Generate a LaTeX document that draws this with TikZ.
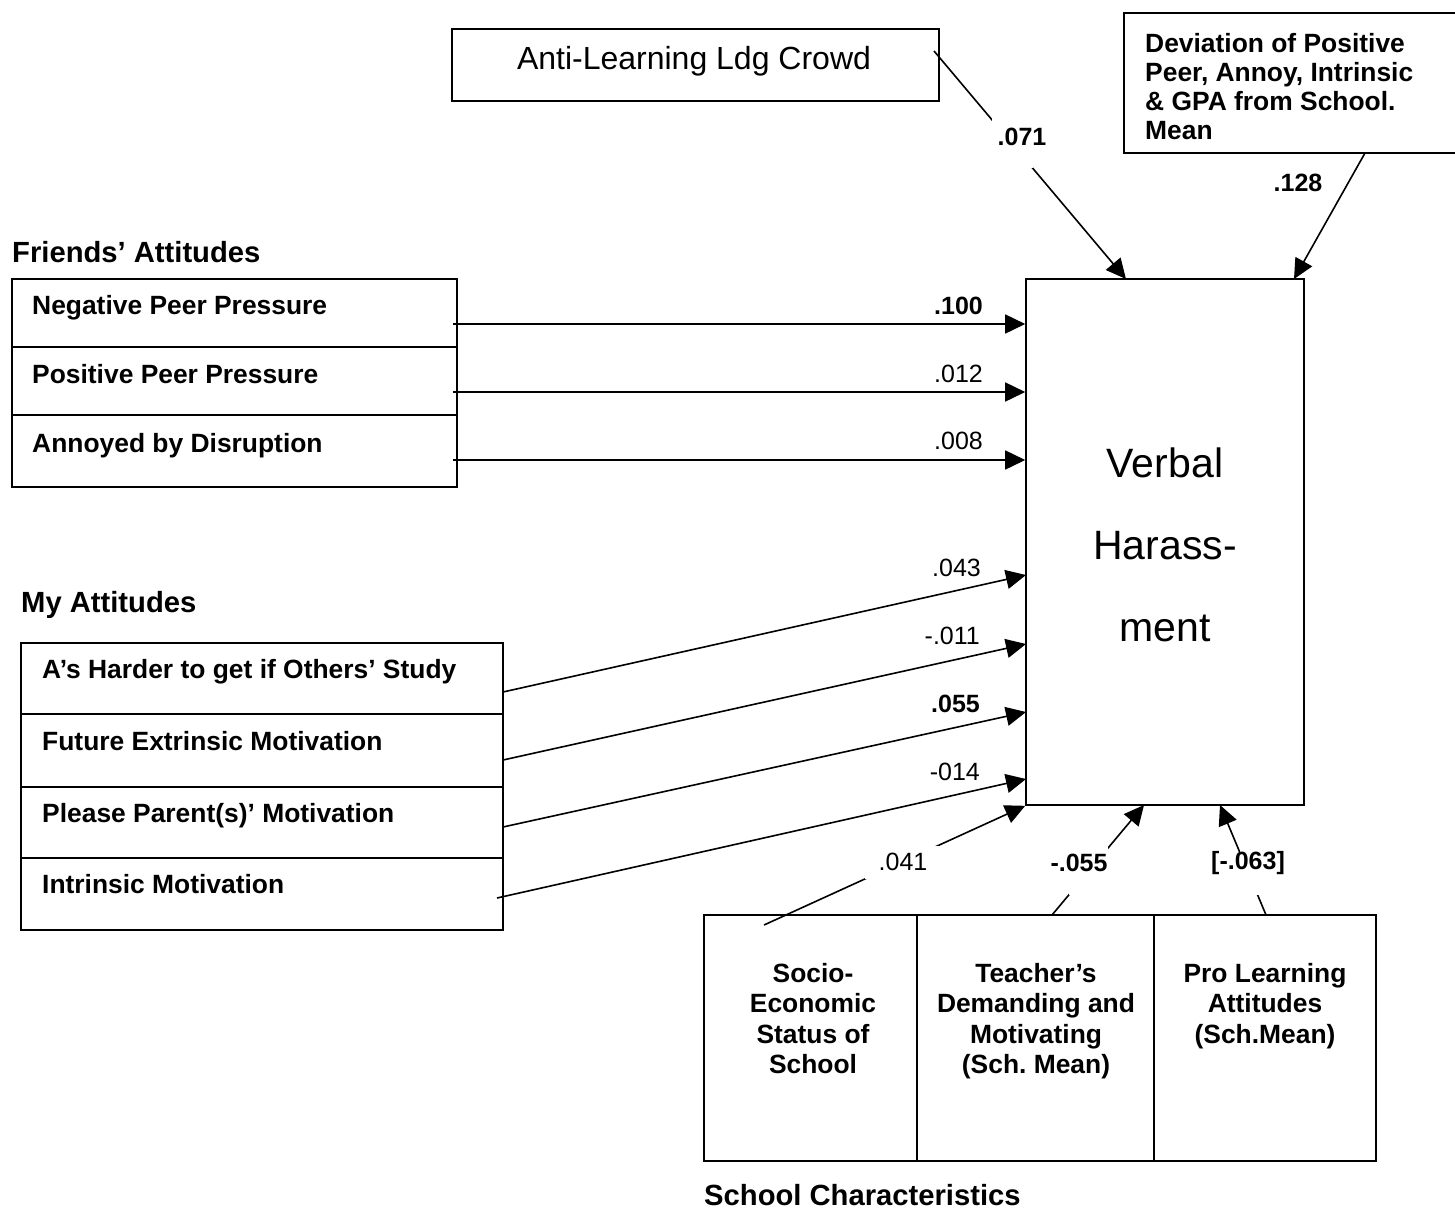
\documentclass[tikz,border=0pt]{standalone}
\usepackage{fontspec}
\setmainfont{Liberation Sans}
\usetikzlibrary{arrows.meta}
\frenchspacing
\newcommand\fItem{\fontsize{26.4}{30.5}\selectfont\bfseries}
\newcommand\fHead{\fontsize{29.2}{34}\selectfont\bfseries}
\newcommand\fNum{\fontsize{25}{30}\selectfont}
\newcommand\fNumB{\fontsize{25}{30}\selectfont\bfseries}
\newcommand\fAnti{\fontsize{32}{38}\selectfont}
\newcommand\fVerbal{\fontsize{41}{82}\selectfont}
\newcommand\fDev{\fontsize{26.4}{29}\selectfont\bfseries}
\begin{document}
\begin{tikzpicture}[x=1pt,y=-1pt,
  box/.style={draw, line width=1.6pt, inner sep=0pt},
  arr/.style={line width=1.6pt, -{Triangle[length=20pt,width=19pt]}},
  item/.style={anchor=base west, inner sep=0pt, font=\fItem},
  head/.style={anchor=base west, inner sep=0pt, font=\fHead},
  num/.style={anchor=base east, inner sep=0pt, font=\fNum},
  numb/.style={anchor=base east, inner sep=0pt, font=\fNumB},
  cnum/.style={inner sep=0pt, font=\fNum},
  cnumb/.style={inner sep=0pt, font=\fNumB},
  gap/.style={fill=white, draw=none, inner sep=0pt},
  multi/.style={anchor=base, inner sep=0pt, align=center, font=\fItem}]
\fill[white] (0,0) rectangle (1455,1213);
\useasboundingbox (0,0) rectangle (1455,1213);

% ---- boxes
\node[box, minimum width=487pt, minimum height=72pt] (ant) at (695.5,65) {};
\node[inner sep=0pt, anchor=base, font=\fAnti] (antt) at (694,69) {Anti-Learning Ldg Crowd};
\node[box, minimum width=346pt, minimum height=140pt] (dev) at (1297,83) {};
\node[anchor=base west, inner sep=0pt, align=left, font=\fDev] (devt) at (1145,139)
  {Deviation of Positive\\Peer, Annoy, Intrinsic\\\& GPA from School.\\Mean};

\node[head] (fh) at (12,262) {Friends’ Attitudes};
\node[box, minimum width=445pt, minimum height=68pt] (fr1) at (234.5,313) {};
\node[box, minimum width=445pt, minimum height=68pt] (fr2) at (234.5,381) {};
\node[box, minimum width=445pt, minimum height=72pt] (fr3) at (234.5,451) {};
\node[item] (fr1t) at (32,314) {Negative Peer Pressure};
\node[item] (fr2t) at (32,383) {Positive Peer Pressure};
\node[item] (fr3t) at (32,452) {Annoyed by Disruption};

\node[head] (mh) at (21,612) {My Attitudes};
\node[box, minimum width=482pt, minimum height=71pt] (my1) at (262,678.5) {};
\node[box, minimum width=482pt, minimum height=73pt] (my2) at (262,750.5) {};
\node[box, minimum width=482pt, minimum height=71pt] (my3) at (262,822.5) {};
\node[box, minimum width=482pt, minimum height=72pt] (my4) at (262,894) {};
\node[item] (my1t) at (42,678) {A’s Harder to get if Others’ Study};
\node[item] (my2t) at (42,750) {Future Extrinsic Motivation};
\node[item] (my3t) at (42,822) {Please Parent(s)’ Motivation};
\node[item] (my4t) at (42,893) {Intrinsic Motivation};

\node[box, minimum width=278pt, minimum height=526pt] (vh) at (1165,542) {};
\node[anchor=base, inner sep=0pt, align=center, font=\fVerbal] (vht) at (1165,641) {Verbal\\Harass-\\ment};

\node[box, minimum width=213pt, minimum height=246pt] (soc) at (810.5,1038) {};
\node[box, minimum width=237pt, minimum height=246pt] (tea) at (1035.5,1038) {};
\node[box, minimum width=222pt, minimum height=246pt] (pro) at (1265,1038) {};
\node[multi] (soct) at (813,1073.5) {Socio-\\Economic\\Status of\\School};
\node[multi] (teat) at (1036,1073.5) {Teacher’s\\Demanding and\\Motivating\\(Sch. Mean)};
\node[multi] (prot) at (1265,1043) {Pro Learning\\Attitudes\\(Sch.Mean)};
\node[head] (sh) at (704,1205) {School Characteristics};

% ---- connector end points
\coordinate (a1) at (453,324);
\coordinate (a2) at (453,392);
\coordinate (a3) at (453,460);
\coordinate (b1) at (503,692);
\coordinate (b2) at (503,760);
\coordinate (b3) at (503,827);
\coordinate (b4) at (497,898);
\coordinate (t1) at (1026,575);
\coordinate (t2) at (1026,644);
\coordinate (t3) at (1026,712);
\coordinate (t4) at (1026,779);
\coordinate (c1) at (934,51);
\coordinate (t5) at (1126,279);
\coordinate (c2) at (1365,153);
\coordinate (t6) at (1294,279);
\coordinate (d1) at (764,925);
\coordinate (d2) at (1052,915);
\coordinate (t7) at (1144,805);
\coordinate (d3) at (1266,915);
\coordinate (t8) at (1220,805);

% ---- connectors
\draw[arr] (a1) -- (vh.west |- a1);
\draw[arr] (a2) -- (vh.west |- a2);
\draw[arr] (a3) -- (vh.west |- a3);
\draw[arr] (b1) -- (t1);
\draw[arr] (b2) -- (t2);
\draw[arr] (b3) -- (t3);
\draw[arr] (b4) -- (t4);
\draw[arr] (c1) -- (t5);
\draw[arr] (c2) -- (t6);
\draw[arr] (d1) -- (vh.south west);
\draw[arr] (d2) -- (t7);
\draw[arr] (d3) -- (t8);

% ---- gaps in connectors for labels
\node[gap, minimum width=41pt, minimum height=50pt] (g1) at (1012.5,143) {};
\node[gap, minimum width=74pt, minimum height=33pt] (g2) at (902,862) {};
\node[gap, minimum width=39pt, minimum height=48pt] (g3) at (1088.5,871) {};
\node[gap, minimum width=19pt, minimum height=48pt] (g4) at (1249.5,871) {};

% ---- labels
\node[numb] (l1) at (983,314) {.100};
\node[num] (l2) at (983,382) {.012};
\node[num] (l3) at (983,449) {.008};
\node[num] (l4) at (981,576) {.043};
\node[num] (l5) at (980,644) {-.011};
\node[numb] (l6) at (980,712) {.055};
\node[num] (l7) at (980,780) {-014};
\node[cnumb] (l8) at (1022,137) {.071};
\node[cnumb] (l9) at (1298,183) {.128};
\node[cnum] (l10) at (903,862) {.041};
\node[cnumb] (l11) at (1079,863) {-.055};
\node[cnumb] (l12) at (1248,863) {[-.063]};
\end{tikzpicture}
\end{document}
